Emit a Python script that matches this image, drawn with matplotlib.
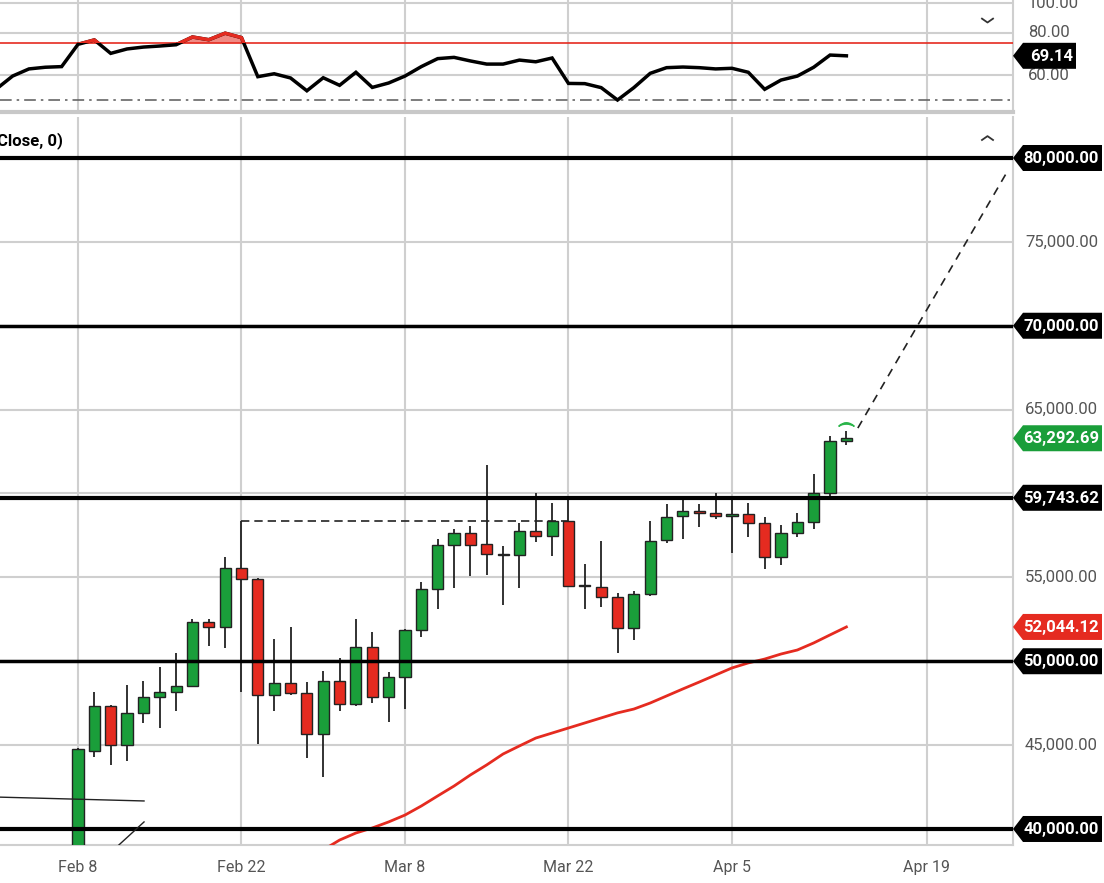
import numpy as np
import matplotlib.pyplot as plt
from matplotlib.patches import Polygon, Rectangle
from matplotlib.path import Path
from matplotlib.transforms import IdentityTransform

plt.rcParams['font.family'] = ['Roboto', 'DejaVu Sans']

# daily candles, index 0 = Feb 8 (weekdays only)
opens = [38800, 44670, 47330, 45010, 46900, 47890, 48190, 48540, 52360, 52020,
         55580, 54890, 47990, 48720, 48090, 45650, 48840, 47430, 50870, 47890,
         49080, 51860, 54290, 56930, 57630, 56970, 56390, 56330, 57750, 57470,
         58360, 54490, 54440, 53810, 51960, 53990, 57230, 58660, 58970, 58850,
         58660, 58780, 58220, 56200, 57660, 58300, 60010, 63150]
highs = [44800, 48150, 47400, 48580, 48820, 49660, 50470, 52520, 52500, 56230,
         58360, 54950, 51310, 52020, 48780, 49440, 50180, 52540, 51730, 49380,
         51900, 54740, 57310, 57870, 58060, 61720, 56870, 58220, 60010, 59420,
         59650, 55780, 57170, 54090, 54190, 58360, 59360, 59610, 59370, 60010,
         59610, 59420, 58580, 58100, 58850, 61140, 63430, 63730]
lows = [38000, 44310, 43820, 44050, 46300, 46000, 47050, 48450, 50910, 50810,
        48190, 45050, 47050, 48000, 44210, 43120, 47050, 47350, 47530, 46360,
        47140, 51460, 53120, 54350, 55100, 55140, 53350, 54350, 57130, 56290,
        54440, 53120, 53250, 50510, 51270, 53900, 57030, 57270, 58020, 58460,
        56470, 57390, 55480, 55720, 57430, 57870, 59810, 62890]
closes = [44770, 47330, 45010, 46900, 47890, 48190, 48540, 52360, 52020, 55580,
          54890, 47990, 48720, 48090, 45650, 48840, 47430, 50870, 47890, 49080,
          51860, 54310, 56950, 57630, 56930, 56390, 56360, 57750, 57470, 58360,
          54500, 54470, 53850, 51960, 53990, 57190, 58620, 58960, 58850, 58660,
          58780, 58220, 56200, 57660, 58300, 60010, 63150, 63292.69]

# 50-day moving average, index 14..47
ma_start = 14
ma50 = [38030, 38750, 39340, 39760, 40060, 40420, 40830, 41370, 41970, 42560,
        43220, 43820, 44470, 44950, 45420, 45720, 46020, 46320, 46620, 46920,
        47150, 47510, 47930, 48350, 48760, 49180, 49600, 49900, 50130, 50430,
        50670, 51090, 51570, 52044.12]

# RSI, index -5..47
rsi_start = -5
rsi = [53.3, 59.5, 62.9, 63.7, 64.0, 74.6, 76.7, 70.3, 72.4, 73.3,
       73.8, 74.4, 78.1, 76.8, 79.9, 77.8, 59.2, 60.6, 58.6, 52.5,
       58.7, 55.1, 61.3, 54.1, 56.2, 59.5, 64.0, 67.8, 68.4, 66.7,
       65.2, 65.2, 67.1, 66.3, 68.1, 56.0, 55.9, 54.0, 48.1, 54.0,
       60.8, 63.5, 63.8, 63.5, 62.9, 63.2, 61.3, 53.2, 57.6, 59.5,
       63.7, 69.5, 69.14]
rsi_upper = 75.1
rsi_mid = 48.1

# levels drawn on the chart
levels = [80000, 70000, 59743.62, 50000, 40000]
level_widths = [3, 2.5, 3, 2.5, 3]
plain_ticks = [75000, 65000, 55000, 45000]

date_pos = [0, 10, 20, 30, 40, 51.9]
date_labels = ['Feb 8', 'Feb 22', 'Mar 8', 'Mar 22', 'Apr 5', 'Apr 19']

# hand-drawn lines (index, price)
dash_top = ([10, 30], [58360, 58360])
trend_flat = ([-6, 4.04], [41930, 41670])
trend_up = ([2.0, 4.04], [38600, 40420])
target_line = ([47.7, 56.9], [63900, 79290])

GREEN = '#1a9e3a'
RED = '#e52b20'
GRID = '#cfcfcf'
LABEL = '#555555'

W, H = 1104, 883
fig = plt.figure(figsize=(W / 100, H / 100), dpi=100)
ax_r = fig.add_axes([0, 1 - 112 / H, 1013 / W, 112 / H])
ax = fig.add_axes([0, 1 - 845 / H, 1013 / W, (845 - 117) / H])

xlim = (-4.77, 57.19)

# ---------- RSI panel ----------
x_rsi = np.arange(len(rsi)) + rsi_start
rsi_arr = np.array(rsi)
ax_r.set_xlim(xlim)
ax_r.set_ylim(42.4, 95.7)
ax_r.set_xticks(date_pos)
ax_r.set_xticklabels([])
ax_r.set_yticks([94.3, 80, 60])
ax_r.grid(True, color=GRID, lw=1.5)
ax_r.tick_params(length=0, labelleft=False, labelright=False)
for s in ['top', 'left']:
    ax_r.spines[s].set_visible(False)
ax_r.spines['right'].set_color(GRID)
ax_r.spines['right'].set_linewidth(1.5)
ax_r.spines['bottom'].set_color('#c8c8c8')
ax_r.spines['bottom'].set_linewidth(3)

ax_r.axhline(rsi_upper, color=RED, lw=1.2, zorder=3)
ax_r.axhline(rsi_mid, color='#666666', lw=1.2, ls=(0, (7, 3, 1.5, 3)), zorder=2)
ax_r.fill_between(x_rsi, rsi_arr, rsi_upper, where=rsi_arr > rsi_upper,
                  interpolate=True, color=RED, alpha=0.55, lw=0, zorder=3)
ax_r.plot(x_rsi, rsi_arr, color='black', lw=2.5, zorder=4, solid_joinstyle='miter')
red_part, = ax_r.plot(x_rsi, rsi_arr, color=RED, lw=2.5, zorder=5)
red_part.set_clip_path(Rectangle((-10, rsi_upper), 100, 60, transform=ax_r.transData))

for v in [80, 60]:
    ax_r.text(1028 / 1013, v, f'{v:.2f}', transform=ax_r.get_yaxis_transform(),
              ha='left', va='center', fontsize=12, color=LABEL, clip_on=False)
fig.text(1028 / W, 1 - 3 / H, '100.00', ha='left', va='center', fontsize=12, color=LABEL)

# ---------- price panel ----------
idx = np.arange(len(closes))
o = np.array(opens, dtype=float)
c = np.array(closes, dtype=float)
colors = [GREEN if cc >= oo else RED for oo, cc in zip(o, c)]
bottoms = np.minimum(o, c)
heights = np.maximum(np.abs(c - o), 60)

ax.set_xlim(xlim)
ax.set_ylim(39045, 82444)
ax.set_yticks(plain_ticks + [40000, 50000, 60000, 70000, 80000])
ax.set_xticks(date_pos)
ax.set_xticklabels(date_labels, fontsize=11.5, color=LABEL)
ax.grid(True, color=GRID, lw=1.5, zorder=0)
ax.tick_params(axis='x', length=0, pad=11)
ax.tick_params(axis='y', length=0, labelleft=False, labelright=False)
for s in ['top', 'left']:
    ax.spines[s].set_visible(False)
for s in ['right', 'bottom']:
    ax.spines[s].set_color(GRID)
    ax.spines[s].set_linewidth(1.5)

ax.plot(np.arange(len(ma50)) + ma_start, ma50, color=RED, lw=2, zorder=3)
ax.vlines(idx, lows, highs, color='#222222', lw=1.3, zorder=4)
ax.bar(idx, heights, bottom=bottoms, width=0.68, color=colors,
       edgecolor='#222222', linewidth=1, zorder=5)

for lv, lw in zip(levels, level_widths):
    ax.axhline(lv, color='black', lw=lw, zorder=6)

ax.plot(*dash_top, color='#222222', lw=1.2, ls=(0, (5, 3)), zorder=6)
ax.plot(*trend_flat, color='#222222', lw=1, zorder=6)
ax.plot(*trend_up, color='#222222', lw=1, zorder=6)
ax.plot(*target_line, color='#222222', lw=1.2, ls=(0, (5, 4)), zorder=6)
ax.plot([47], [64150], marker=r'$\frown$', ms=11, color='#2bb54a', zorder=7)

ax.text(-0.003, 0.968, 'Close, 0)', transform=ax.transAxes, ha='left', va='center',
        fontsize=12, fontweight='bold', color='black')

chev = Path([(-1, 0), (0, 0.7), (1, 0)], [Path.MOVETO, Path.LINETO, Path.LINETO])
ax.plot([0.974], [0.968], transform=ax.transAxes, marker=chev, ms=9,
        fillstyle='none', mew=1.3, color='#333333', clip_on=False)
chev_d = Path([(-1, 0.7), (0, 0), (1, 0.7)], [Path.MOVETO, Path.LINETO, Path.LINETO])
ax_r.plot([0.974], [0.80], transform=ax_r.transAxes, marker=chev_d, ms=9,
          fillstyle='none', mew=1.3, color='#333333', clip_on=False)

for v in plain_ticks:
    ax.text(1025 / 1013, v, f'{v:,.2f}', transform=ax.get_yaxis_transform(),
            ha='left', va='center', fontsize=12, color=LABEL, clip_on=False)


def tag(axis, val, label, color, x1=1102):
    yc = axis.transData.transform((0, val))[1]
    x0, h = 1013, 13
    poly = Polygon([(x0, yc), (x0 + 10, yc + h), (x1, yc + h), (x1, yc - h),
                    (x0 + 10, yc - h)], closed=True, transform=IdentityTransform(),
                   facecolor=color, edgecolor='none')
    fig.add_artist(poly)
    fig.text(x1 - 3, yc - 0.5, label, transform=IdentityTransform(), ha='right',
             va='center', fontsize=12, fontweight='bold', color='white')


for lv in levels:
    tag(ax, lv, f'{lv:,.2f}', 'black')
tag(ax, closes[-1], f'{closes[-1]:,.2f}', GREEN)
tag(ax, ma50[-1], f'{ma50[-1]:,.2f}', RED)
tag(ax_r, rsi[-1], f'{rsi[-1]:.2f}', 'black', x1=1076)

fig.savefig('out.png', dpi=100)
